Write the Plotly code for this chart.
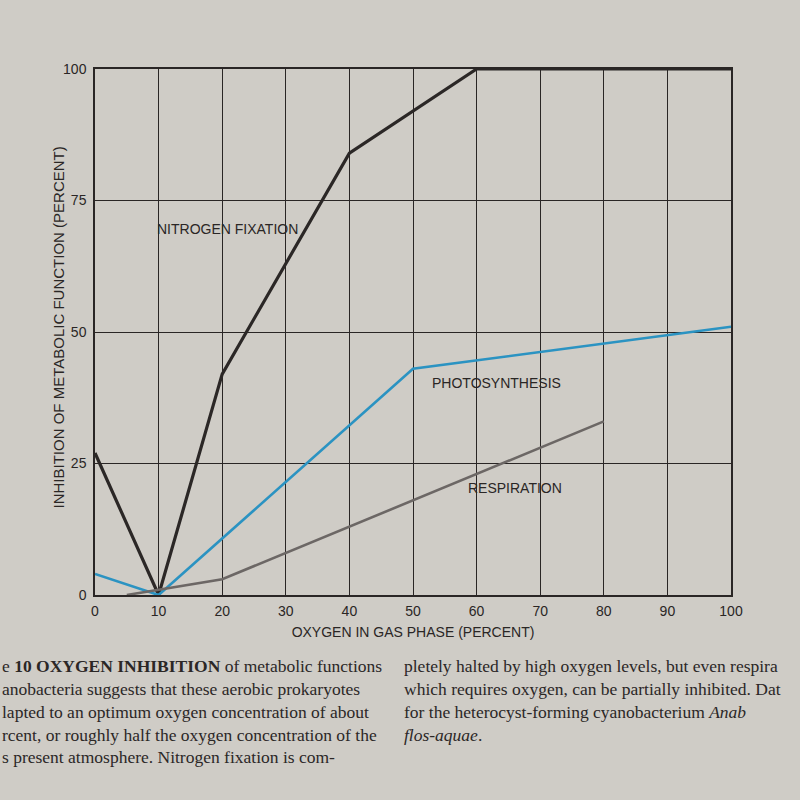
import plotly.graph_objects as go

# oxygen in gas phase (percent) vs inhibition (percent)
nitro_x = [0, 10, 20, 40, 60, 100]
nitro_y = [27, 0, 42, 84, 100, 100]

photo_x = [0, 10, 50, 100]
photo_y = [4, 0, 43, 51]

resp_x = [5, 10, 20, 80]
resp_y = [0, 1, 3, 33]

x_ticks = [0, 10, 20, 30, 40, 50, 60, 70, 80, 90, 100]
y_ticks = [0, 25, 50, 75, 100]

caption_left = [
    "e <b>10 OXYGEN INHIBITION</b> of metabolic functions",
    "anobacteria suggests that these aerobic prokaryotes",
    "lapted to an optimum oxygen concentration of about",
    "rcent, or roughly half the oxygen concentration of the",
    "s present atmosphere. Nitrogen fixation is com-",
]
caption_right = [
    "pletely halted by high oxygen levels, but even respira",
    "which requires oxygen, can be partially inhibited. Dat",
    "for the heterocyst-forming cyanobacterium <i>Anab</i>",
    "<i>flos-aquae</i>.",
]

paper = "#cfccc6"
ink = "#2a2625"

fig = go.Figure()
fig.add_trace(go.Scatter(x=nitro_x, y=nitro_y, mode="lines",
                         line=dict(color="#2b2726", width=3.2), cliponaxis=False))
fig.add_trace(go.Scatter(x=photo_x, y=photo_y, mode="lines",
                         line=dict(color="#2b93c2", width=2.6), cliponaxis=False))
fig.add_trace(go.Scatter(x=resp_x, y=resp_y, mode="lines",
                         line=dict(color="#6c6765", width=2.6), cliponaxis=False))

# curve labels
fig.add_annotation(x=9.4, y=69.5, text="NITROGEN FIXATION", xanchor="left", showarrow=False)
fig.add_annotation(x=52.7, y=40.3, text="PHOTOSYNTHESIS", xanchor="left", showarrow=False)
fig.add_annotation(x=58.3, y=20.3, text="RESPIRATION", xanchor="left", showarrow=False)

fig.update_xaxes(range=[0, 100], tickvals=x_ticks, showgrid=True, gridcolor=ink, gridwidth=1.2,
                 showline=True, linecolor=ink, linewidth=1.5, mirror=True, zeroline=False,
                 ticks="", tickfont=dict(size=14, color=ink), ticklabelstandoff=2,
                 title=dict(text="OXYGEN IN GAS PHASE (PERCENT)", font=dict(size=14, color=ink),
                            standoff=10))
fig.update_yaxes(range=[0, 100], tickvals=y_ticks, showgrid=True, gridcolor=ink, gridwidth=1.2,
                 showline=True, linecolor=ink, linewidth=1.5, mirror=True, zeroline=False,
                 ticks="", tickfont=dict(size=14, color=ink), ticklabelstandoff=4)

# y title sits closer to the axis than plotly's standoff allows
fig.add_annotation(x=48 / 800, y=1 - 328 / 800, xref="paper", yref="paper",
                   text="INHIBITION OF METABOLIC FUNCTION (PERCENT)", textangle=-90,
                   showarrow=False, font=dict(size=15, color=ink))

# caption below the chart, positioned in page pixels
cap_y = [666, 689, 712, 735, 757]
for i, line in enumerate(caption_left):
    fig.add_annotation(x=0, y=1 - cap_y[i] / 800, xref="paper", yref="paper", text=line,
                       xanchor="left", yanchor="middle", showarrow=False,
                       font=dict(family="Liberation Serif", size=17.5, color="#2b2726"))
for i, line in enumerate(caption_right):
    fig.add_annotation(x=402 / 800, y=1 - cap_y[i] / 800, xref="paper", yref="paper", text=line,
                       xanchor="left", yanchor="middle", showarrow=False,
                       font=dict(family="Liberation Serif", size=17.5, color="#2b2726"))

fig.update_layout(
    width=800, height=800,
    paper_bgcolor=paper, plot_bgcolor=paper,
    showlegend=False,
    font=dict(family="Liberation Sans, Arial", size=14, color=ink),
    margin=dict(l=95, r=69, t=69, b=205, autoexpand=False),
)
# convert page fractions to plot-area paper fractions
for a in fig.layout.annotations:
    if a.xref == "paper":
        a.x = (a.x * 800 - 95) / (800 - 95 - 69)
        a.y = (a.y * 800 - 205) / (800 - 69 - 205)

fig.write_html("out.html", config={"displayModeBar": False},
               post_script="document.body.style.margin='0';")
